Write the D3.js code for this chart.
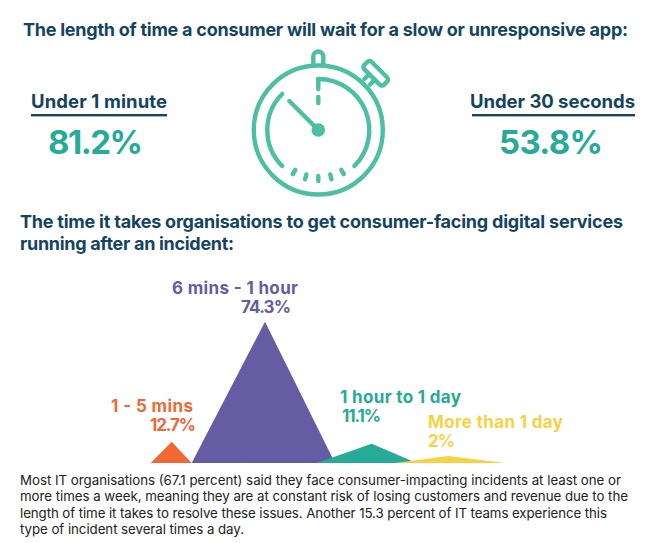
<!DOCTYPE html>
<html><head><meta charset="utf-8">
<script src="https://cdn.jsdelivr.net/npm/d3@7"></script>
<style>html,body{margin:0;padding:0;background:#fff}svg{display:block}text{font-family:Inter,"Noto Sans",sans-serif}</style>
</head><body><svg id="c" width="651" height="543"></svg>
<script>
const categories = ["1 - 5 mins","6 mins - 1 hour","1 hour to 1 day","More than 1 day"];
const seriesValues = [12.7,74.3,11.1,2];
const valueLabels = ["12.7%","74.3%","11.1%","2%"];
const colours = ["#f26835","#655ca3","#25ab98","#fbd144"];
const waitLabels = ["Under 1 minute","Under 30 seconds"];
const waitValues = ["81.2%","53.8%"];
const title1 = "The length of time a consumer will wait for a slow or unresponsive app:";
const title2 = ["The time it takes organisations to get consumer-facing digital services","running after an incident:"];
const bodyLines = ["Most IT organisations (67.1 percent) said they face consumer-impacting incidents at least one or",
"more times a week, meaning they are at constant risk of losing customers and revenue due to the",
"length of time it takes to resolve these issues. Another 15.3 percent of IT teams experience this",
"type of incident several times a day."];

const NAVY="#14445f", TEAL="#25ab98", CLOCK="#4dbfa3";
const svg=d3.select("#c");
function txt(s,x,y,size,weight,fill,anchor,width){
  const t=svg.append("text").attr("x",x).attr("y",y).attr("font-size",size).attr("font-weight",weight)
    .attr("fill",fill).attr("text-anchor",anchor||"start").text(s);
  if(width){t.attr("textLength",width).attr("lengthAdjust","spacing");}
  return t;
}
txt(title1,23,35.5,18,700,NAVY,"start",605);
txt(title2[0],20,228,18,700,NAVY,"start",603);
txt(title2[1],20,250,18,700,NAVY,"start",214);
// wait blocks
const blocks=d3.scaleOrdinal().domain(waitLabels).range([31,470]);
const widths=d3.scaleOrdinal().domain(waitLabels).range([136,165]);
const valueStart=d3.scaleOrdinal().domain(waitLabels).range([48,499]);
const valueWidth=d3.scaleOrdinal().domain(waitLabels).range([95,104]);
waitLabels.forEach((l,i)=>{
  const x=blocks(l),w=widths(l);
  txt(l,x,107.5,18.5,700,NAVY,"start",w);
  svg.append("rect").attr("x",i?472:x).attr("y",114).attr("width",i?163:w).attr("height",2.4).attr("fill",NAVY);
  txt(waitValues[i],valueStart(l),153.5,33,700,TEAL,"start",valueWidth(l));
});
// stopwatch
const g=svg.append("g").attr("transform","translate(318.3,130)").attr("fill","none").attr("stroke",CLOCK)
  .attr("stroke-width",4.4).attr("stroke-linecap","round");
g.append("circle").attr("r",64.5);
const rad=d=>d*Math.PI/180;
const arcPath=(a,b,r)=>{const p=d3.path();p.arc(0,0,r,rad(a-90),rad(b-90));return p.toString();};
g.append("path").attr("d",arcPath(0,135,51));
g.append("path").attr("d",arcPath(-135,-45,51));
[150,165,180,195,210].forEach(a=>{
  const s=Math.sin(rad(a)),c=-Math.cos(rad(a));
  g.append("line").attr("x1",s*46).attr("y1",c*46).attr("x2",s*51).attr("y2",c*51);
});
g.append("path").attr("d","M0,-51V-41");
g.append("path").attr("d","M0,-33V-27");
g.append("line").attr("x1",-29).attr("y1",-29).attr("x2",0).attr("y2",0);
g.append("circle").attr("r",6.8).attr("fill",CLOCK).attr("stroke","none");
g.append("path").attr("d","M-5,-65V-73.5a5,5 0 0 1 10,0V-65");
g.append("g").attr("transform","translate(57.4,-56.7) rotate(45)").call(s=>{
  s.append("rect").attr("x",-14).attr("y",-5.2).attr("width",28).attr("height",10.4).attr("rx",3.2);
  s.append("path").attr("d","M-4,5.2V12M4,5.2V12");
});
// triangles
const base=463;
const hScale=d3.scaleLinear().domain([0,2,12.7,74.3]).range([0,7,21.3,141.3]);
const peakX=d3.scaleOrdinal().domain(categories).range([171.7,265,371.7,448]);
const leftX=d3.scaleOrdinal().domain(categories).range([150.7,191.7,316.7,395]);
const rightX=d3.scaleOrdinal().domain(categories).range([191.7,335,416.7,505]);
svg.append("g").selectAll("path").data(categories).join("path")
  .attr("d",(c,i)=>{const p=d3.path();p.moveTo(leftX(c),base);p.lineTo(peakX(c),base-hScale(seriesValues[i]));p.lineTo(rightX(c),base);p.closePath();return p.toString();})
  .attr("fill",(c,i)=>colours[i]);
// labels
const lblX=d3.scaleOrdinal().domain(categories).range([111,172,340,428]);
const lblW=d3.scaleOrdinal().domain(categories).range([82,126,121,135]);
const lblY=d3.scaleOrdinal().domain(categories).range([412,294,403,427.5]);
const valX=d3.scaleOrdinal().domain(categories).range([150,241,342,428]);
const valW=d3.scaleOrdinal().domain(categories).range([46,50,39,27]);
const valY=d3.scaleOrdinal().domain(categories).range([431,313,422,447]);
categories.forEach((c,i)=>{
  txt(c,lblX(c),lblY(c),17,700,colours[i],"start",lblW(c));
  txt(valueLabels[i],valX(c),valY(c),17,700,colours[i],"start",valW(c));
});
const bodyWidths=[601,608,587,224];
bodyLines.forEach((l,i)=>{
  txt(l,20,485+i*16.3,13.3,400,"#222222","start",bodyWidths[i]);
});
</script></body></html>
